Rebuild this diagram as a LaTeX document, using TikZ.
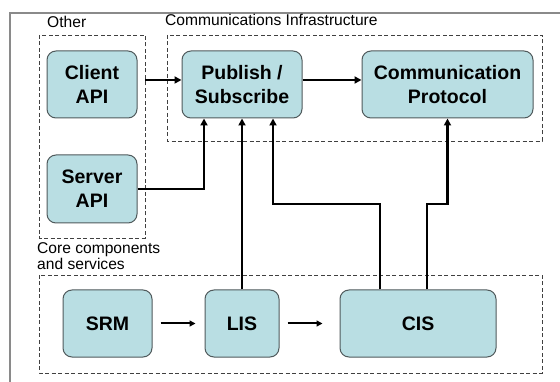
\documentclass[tikz,border=0pt]{standalone}
\usepackage{fontspec}
\setmainfont{Liberation Sans}
\usetikzlibrary{arrows.meta}
\definecolor{boxfill}{HTML}{B9DEE3}
\definecolor{boxdraw}{HTML}{505A5C}
\definecolor{framegray}{HTML}{8A8A8A}
\begin{document}
\begin{tikzpicture}[x=1pt,y=-1pt,
  blk/.style={draw=boxdraw, line width=1pt, fill=boxfill, rounded corners=9pt,
    font=\fontsize{19.5}{24}\selectfont\bfseries, align=center, inner sep=0pt},
  grp/.style={draw=black!75, line width=0.9pt, dash pattern=on 4pt off 2.5pt},
  lbl/.style={font=\fontsize{15.6}{16.5}\selectfont, inner sep=0pt, align=left},
  arr/.style={line width=2.3pt, -{Triangle[length=7pt,width=7pt]}},
  cn/.style={line width=2.3pt}]
\useasboundingbox (0,0) rectangle (560,382);
\fill[white] (0,0) rectangle (560,382);
\draw[framegray, line width=1.5pt] (10,382) -- (10,13) -- (560,13);

% groups
\draw[grp] (39,35) rectangle (145,238);
\draw[grp] (167,35) rectangle (542,141);
\draw[grp] (39,275) rectangle (542,373);
\coordinate (otherE) at (145,80);

% labels
\node[lbl, anchor=base west] (lother) at (47,28) {Other};
\node[lbl, anchor=base west] (lcomm) at (165,26) {Communications Infrastructure};
\node[lbl, anchor=base west] (lcore1) at (37,254) {Core components};
\node[lbl, anchor=base west] (lcore2) at (37,270) {and services};

% blocks
\node[blk, minimum width=90pt, minimum height=67pt] (client) at (92,84.5) {Client\\API};
\node[blk, minimum width=90pt, minimum height=68pt] (server) at (92,189) {Server\\API};
\node[blk, minimum width=120pt, minimum height=67pt] (pub) at (242,84.5) {Publish /\\Subscribe};
\node[blk, minimum width=171pt, minimum height=67pt] (comm) at (447.5,84.5) {Communication\\Protocol};
\node[blk, minimum width=89pt, minimum height=67pt] (srm) at (107.5,323.5) {SRM};
\node[blk, minimum width=74pt, minimum height=67pt] (lis) at (242,323.5) {LIS};
\node[blk, minimum width=156pt, minimum height=67pt] (cis) at (418,323.5) {CIS};

% connectors
\draw[arr] (otherE) -- (otherE -| pub.west);
\draw[arr] ([yshift=4.5pt]pub.east) -- ([yshift=4.5pt]comm.west);
\draw[arr] (server.east) -| ([xshift=-38pt]pub.south);
\draw[arr] (lis.north) -- (pub.south);
\draw[arr] ([xshift=-38pt]cis.north) |- (273,204) -- ([xshift=31pt]pub.south);
\draw[arr] ([xshift=9pt]cis.north) |- (447.5,204) -- (comm.south);
\draw[line width=2pt, -{Triangle[length=6pt,width=6pt]}] ([xshift=8pt]srm.east) -- ([xshift=-9pt]lis.west);
\draw[line width=2pt, -{Triangle[length=6pt,width=6pt]}] ([xshift=8pt]lis.east) -- ([xshift=-17pt]cis.west);
\end{tikzpicture}
\end{document}
